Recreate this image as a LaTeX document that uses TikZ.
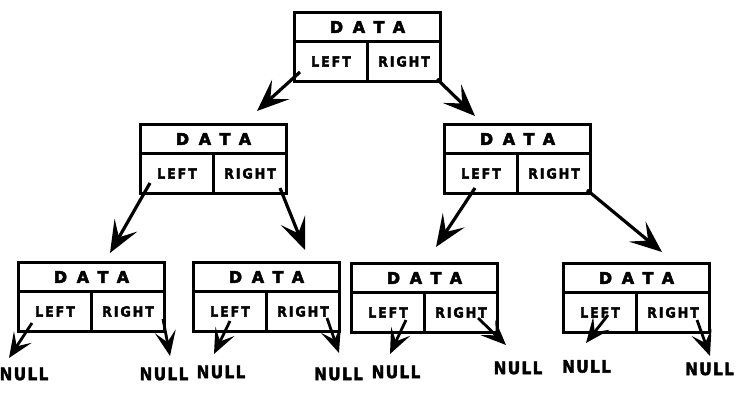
\documentclass[tikz,border=0pt]{standalone}
\usepackage{fontspec}
\usepackage{tikz}
\usetikzlibrary{arrows.meta, calc, positioning}

\newfontfamily\datafont[LetterSpace=60, FakeBold=3]{DejaVu Sans}
\newfontfamily\cellfont[LetterSpace=14, FakeBold=2.5]{DejaVu Sans Condensed}
\newfontfamily\leaffont[LetterSpace=8, FakeBold=2.5]{DejaVu Sans Condensed}

\tikzset{
    datacell/.style={draw, line width=3pt, outer sep=0pt, inner sep=0pt, minimum width=146pt, minimum height=29pt, anchor=north west, font=\datafont\bfseries\fontsize{16}{16}\selectfont},
    ptrcell/.style={draw, line width=3pt, outer sep=0pt, inner sep=0pt, minimum width=73pt, minimum height=40pt, font=\cellfont\bfseries\fontsize{14}{14}\selectfont},
    nulltext/.style={inner sep=0pt, font=\leaffont\bfseries\fontsize{17}{17}\selectfont},
    link/.style={line width=3.2pt, -{Stealth[length=32pt, width=26pt, inset=14pt]}},
    nulllink/.style={line width=2.8pt, -{Stealth[length=25pt, width=21pt, inset=11pt]}}
}

\begin{document}
\begin{tikzpicture}[x=1pt, y=-1pt]
        \useasboundingbox (0, 0) rectangle (739, 410);

        % records: data on top, left and right pointers below
        \node[datacell] (r-data) at (294.5, 12.5) {DATA};
        \node[ptrcell, anchor=north west] (r-left) at (r-data.south west) {LEFT};
        \node[ptrcell, anchor=north east] (r-right) at (r-data.south east) {RIGHT};

        \node[datacell] (ml-data) at (140.5, 124.5) {DATA};
        \node[ptrcell, anchor=north west] (ml-left) at (ml-data.south west) {LEFT};
        \node[ptrcell, anchor=north east] (ml-right) at (ml-data.south east) {RIGHT};

        \node[datacell] (mr-data) at (444.5, 124.5) {DATA};
        \node[ptrcell, anchor=north west] (mr-left) at (mr-data.south west) {LEFT};
        \node[ptrcell, anchor=north east] (mr-right) at (mr-data.south east) {RIGHT};

        \node[datacell] (a-data) at (18.5, 262.5) {DATA};
        \node[ptrcell, anchor=north west] (a-left) at (a-data.south west) {LEFT};
        \node[ptrcell, anchor=north east] (a-right) at (a-data.south east) {RIGHT};

        \node[datacell] (b-data) at (193.5, 262.5) {DATA};
        \node[ptrcell, anchor=north west] (b-left) at (b-data.south west) {LEFT};
        \node[ptrcell, anchor=north east] (b-right) at (b-data.south east) {RIGHT};

        \node[datacell] (c-data) at (351.5, 263.5) {DATA};
        \node[ptrcell, anchor=north west] (c-left) at (c-data.south west) {LEFT};
        \node[ptrcell, anchor=north east] (c-right) at (c-data.south east) {RIGHT};

        \node[datacell] (d-data) at (563.5, 263.5) {DATA};
        \node[ptrcell, anchor=north west] (d-left) at (d-data.south west) {LEFT};
        \node[ptrcell, anchor=north east] (d-right) at (d-data.south east) {RIGHT};

        % null leaves
        \node[nulltext] (a-lnull) at (24, 374) {NULL};
        \node[nulltext] (a-rnull) at (164, 374) {NULL};
        \node[nulltext] (b-lnull) at (221, 372) {NULL};
        \node[nulltext] (b-rnull) at (338.5, 374) {NULL};
        \node[nulltext] (c-lnull) at (396, 372) {NULL};
        \node[nulltext] (c-rnull) at (518, 368) {NULL};
        \node[nulltext] (d-lnull) at (586.5, 366.5) {NULL};
        \node[nulltext] (d-rnull) at (709.5, 369) {NULL};

        % arrow tips
        \coordinate (r-ltip) at (257, 111);
        \coordinate (r-rtip) at (475, 116);
        \coordinate (ml-ltip) at (110, 253);
        \coordinate (ml-rtip) at (305, 250);
        \coordinate (mr-ltip) at (436, 247);
        \coordinate (mr-rtip) at (662, 252);

        \draw[link] ($(r-left.south west)+(5.5,-9.5)$) to (r-ltip);
        \draw[link] ($(r-right.south east)+(-3.5,-2.5)$) to (r-rtip);
        \draw[link] ($(ml-left.south west)+(9.5,-10.5)$) to (ml-ltip);
        \draw[link] ($(ml-right.south east)+(-6.5,-5.5)$) to (ml-rtip);
        \draw[link] ($(mr-left.south west)+(30.5,-5.5)$) to (mr-ltip);
        \draw[link] ($(mr-right.south east)+(-3.5,-3.5)$) to (mr-rtip);

        \coordinate (a-ltip) at (9, 358);
        \coordinate (a-rtip) at (170, 356);
        \coordinate (b-ltip) at (214, 354);
        \coordinate (b-rtip) at (339, 353);
        \coordinate (c-ltip) at (390, 354);
        \coordinate (c-rtip) at (506, 345);
        \coordinate (d-ltip) at (586, 343);
        \coordinate (d-rtip) at (710, 356);

        \draw[nulllink] ($(a-left.south west)+(13.5,-8.5)$) to (a-ltip);
        \draw[nulllink] ($(a-right.south east)+(-1.5,-12.5)$) to (a-rtip);
        \draw[nulllink] ($(b-left.south west)+(36.5,-10.5)$) to (b-ltip);
        \draw[nulllink] ($(b-right.south east)+(-12.5,-13.5)$) to (b-rtip);
        \draw[nulllink] ($(c-left.south west)+(54.5,-12.5)$) to (c-ltip);
        \draw[nulllink] ($(c-right.south east)+(-19.5,-14.5)$) to (c-rtip);
        \draw[nulllink] ($(d-left.south west)+(44.5,-17.5)$) to (d-ltip);
        \draw[nulllink] ($(d-right.south east)+(-12.5,-12.5)$) to (d-rtip);
    \end{tikzpicture}
\end{document}
